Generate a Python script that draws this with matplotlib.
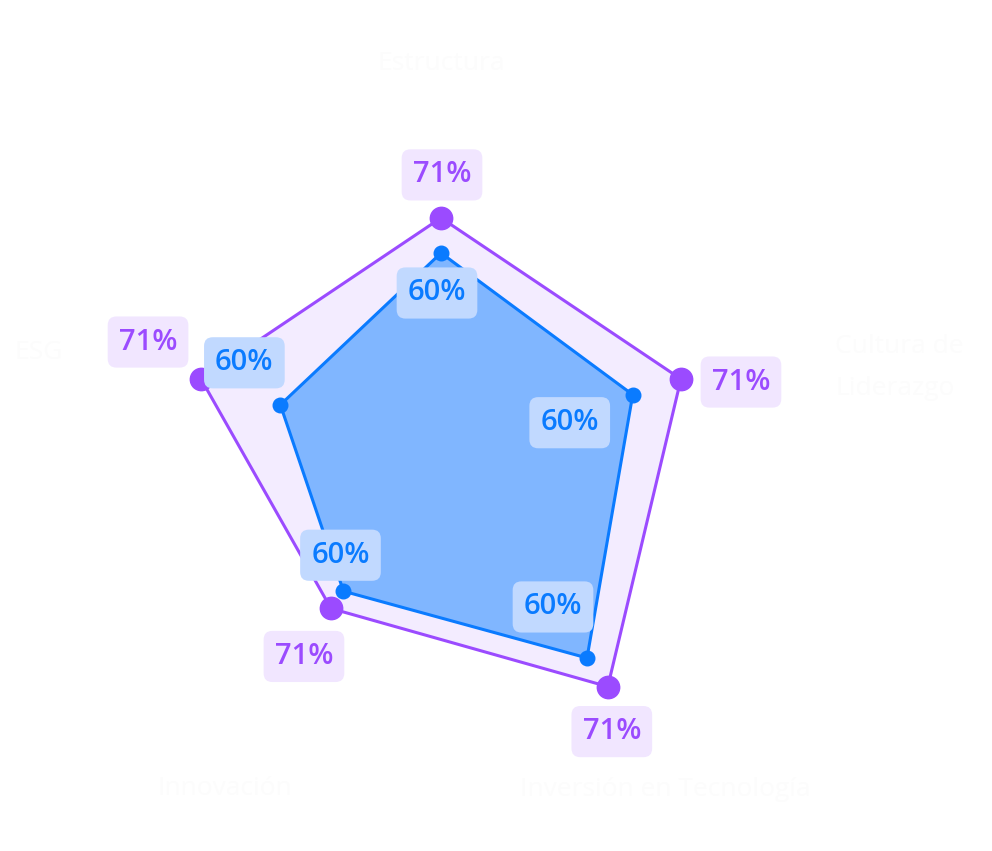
import numpy as np
import matplotlib
matplotlib.use("Agg")
import matplotlib.pyplot as plt

plt.rcParams["font.family"] = ["Open Sans", "DejaVu Sans"]

# data
categories = ["Estructura", "Cultura de\nLiderazgo", "Inversión en Tecnología", "Innovación", "ESG"]
outer_values = [79.7, 84.1, 94.6, 62.4, 84.1]
inner_values = [68.0, 67.2, 82.8, 55.3, 56.3]
outer_labels = ["71%", "71%", "71%", "71%", "71%"]
inner_labels = ["60%", "60%", "60%", "60%", "60%"]

# colours
purple = "#9b4bff"
purple_fill = "#f3ecff"
purple_box = "#f1e6ff"
blue = "#0a7bff"
blue_fill = "#80b6ff"
blue_box = "#c1d9ff"

W, H = 992, 851
fig = plt.figure(figsize=(W / 100, H / 100), dpi=100)
fig.patch.set_facecolor("white")

cx, cy, R = 441, 457, 300
ax = fig.add_axes([(cx - R) / W, (H - cy - R) / H, 2 * R / W, 2 * R / H], projection="polar")
ax.set_theta_zero_location("N")
ax.set_theta_direction(-1)
ax.set_ylim(0, 100)
ax.grid(False)
ax.set_xticks([])
ax.set_yticks([])
ax.spines["polar"].set_visible(False)
ax.patch.set_alpha(0)

n = len(categories)
theta = np.arange(n) * 2 * np.pi / n
th_closed = np.append(theta, theta[0])
out_closed = np.append(outer_values, outer_values[0])
in_closed = np.append(inner_values, inner_values[0])

ax.fill(th_closed, out_closed, color=purple_fill, zorder=1)
ax.plot(th_closed, out_closed, color=purple, lw=2.2, zorder=2)
ax.fill(th_closed, in_closed, color=blue_fill, zorder=3)
ax.plot(th_closed, in_closed, color=blue, lw=2.2, zorder=4)
ax.scatter(theta, outer_values, s=260, color=purple, zorder=5, clip_on=False)
ax.scatter(theta, inner_values, s=110, color=blue, zorder=6, clip_on=False)

# category names (nearly white, as in the original)
cat_offsets = [(0, 94, "center"), (109, -3, "left"), (48, -90, "center"),
               (-40, -89, "center"), (-93, 12, "right")]
for t, name, (dx, dy, ha) in zip(theta, categories, cat_offsets):
    ax.annotate(name, (t, 100), xytext=(dx, dy), textcoords="offset pixels",
                ha=ha, va="center", fontsize=19, color="#fcfcfc",
                linespacing=1.9, annotation_clip=False)

box_style = "round,pad=0.38,rounding_size=0.3"
outer_offsets = [(1, 43), (60, -3), (4, -45), (-27, -48), (-53, 37)]
for t, v, lab, (dx, dy) in zip(theta, outer_values, outer_labels, outer_offsets):
    ax.annotate(lab, (t, v), xytext=(dx, dy), textcoords="offset pixels",
                ha="center", va="center", fontsize=21, fontweight="semibold",
                color=purple, zorder=8, annotation_clip=False,
                bbox=dict(boxstyle=box_style, fc=purple_box, ec="none"))

inner_offsets = [(-4, -40), (-63, -28), (-34, 51), (-3, 36), (-36, 42)]
for t, v, lab, (dx, dy) in zip(theta, inner_values, inner_labels, inner_offsets):
    ax.annotate(lab, (t, v), xytext=(dx, dy), textcoords="offset pixels",
                ha="center", va="center", fontsize=21, fontweight="semibold",
                color=blue, zorder=9, annotation_clip=False,
                bbox=dict(boxstyle=box_style, fc=blue_box, ec="none"))

fig.savefig("out.png", dpi=100)
